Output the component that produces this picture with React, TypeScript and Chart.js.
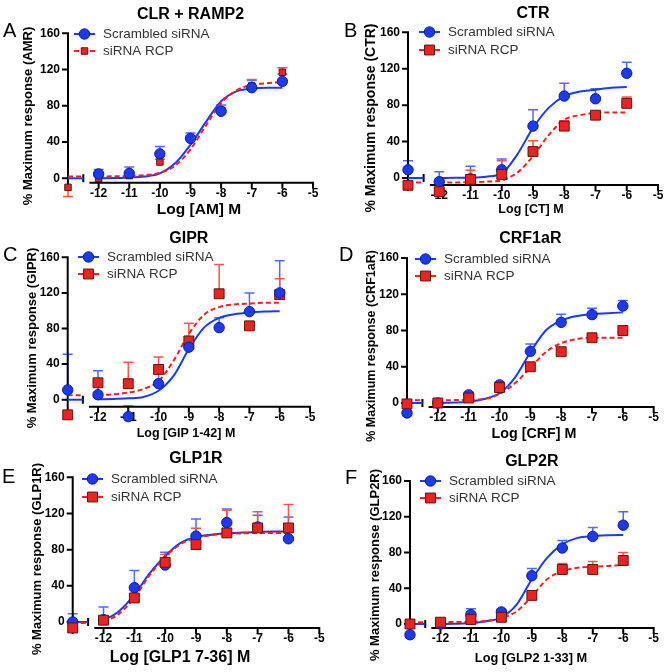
import React, { useEffect, useRef } from "react";
import { Chart, registerables } from "chart.js";

Chart.register(...registerables);

// ---------------- shared axis / category data ----------------
const DOSE_X = [-13, -12, -11, -10, -9, -8, -7, -6]; // first = basal (no agonist)
const FIT_X = [-12, -11.5, -11, -10.5, -10, -9.5, -9, -8.5, -8, -7.5, -7, -6.5, -6];
const BASAL_SEGMENT_X = [-13, -12.5];
const X_TICKS = [-12, -11, -10, -9, -8, -7, -6, -5];
const Y_TICKS = [0, 40, 80, 120, 160];
const SERIES_NAMES = ["Scrambled siRNA", "siRNA RCP"];
const PANEL_LETTERS = ["A", "B", "C", "D", "E", "F"];
const PANEL_TITLES = ["CLR + RAMP2", "CTR", "GIPR", "CRF1aR", "GLP1R", "GLP2R"];
const Y_TITLES = [
  "% Maximum response (AMR)",
  "% Maximum response (CTR)",
  "% Maximum response (GIPR)",
  "% Maximum response (CRF1aR)",
  "% Maximum response (GLP1R)",
  "% Maximum response (GLP2R)",
];
const X_TITLES = ["Log [AM] M", "Log [CT] M", "Log [GIP 1-42] M", "Log [CRF] M", "Log [GLP1 7-36] M", "Log [GLP2 1-33] M"];

// ---------------- panel A: CLR + RAMP2 ----------------
const A_SCR = [null, 4.8, 5.5, 27, 44, 74, 100, 107];
const A_SCR_ERR = [0, 5, 7, 8, 6, 7, 8, 8];
const A_RCP = [-10, 0, 3, 18, 43, 74, 102, 117];
const A_RCP_ERR = [-10, 2, 2, 3, 4, 4, 7, 5];
const A_SCR_FIT = [0, 0.3, 1, 2, 5.5, 16.5, 37, 62, 85, 96, 99, 100, 100];
const A_RCP_FIT = [2, 2.2, 2.5, 3.5, 6, 14, 32, 58, 83, 97, 103, 105, 106];
const A_BOTTOM = [0, 2];

// ---------------- panel B: CTR ----------------
const B_SCR = [9, -4, -1, 9, 57, 90, 87, 115];
const B_SCR_ERR = [10, 11, 14, 12, 18, 14, 11, 12];
const B_RCP = [-8, -15, -1.5, 4, 29, 57, 69, 82];
const B_RCP_ERR = [3, 3, 10, 15, 12, 6, 3, 7];
const B_SCR_FIT = [0, 0.2, 0.5, 1.5, 5, 26, 55, 77, 90, 95, 97, 99, 100];
const B_RCP_FIT = [-5, -5, -4.5, -4, -2.5, 6, 24, 47, 64, 69, 71.5, 72, 72];
const B_BOTTOM = [0, -5];

// ---------------- panel C: GIPR ----------------
const C_SCR = [11, 5.6, -19, 18, 59, 81, 99, 120];
const C_SCR_ERR = [40, 27, 12, 15, 11, 11, 21, 36];
const C_RCP = [-17, 19, 18, 34, 66, 119, 83, 118];
const C_RCP_ERR = [-3, 3, 24, 14, 20, 33, 3, 18];
const C_SCR_FIT = [0.5, 0.8, 1.5, 3, 10, 27, 57, 81, 92, 96, 98, 99, 99.5];
const C_RCP_FIT = [5, 6, 8, 12, 21, 44, 74, 95.5, 104, 107, 108, 109, 109];
const C_BOTTOM = [0, 5];

// ---------------- panel D: CRF1aR ----------------
const D_SCR = [-11, 0, 9, 20, 57, 89, 97.5, 107];
const D_SCR_ERR = [-3, 2, 3, 3, 8, 9, 7, 6];
const D_RCP = [-1, 0, 5.5, 17, 40, 56.6, 72, 80];
const D_RCP_ERR = [2, 2, 2, 3, 3, 3, 3, 3];
const D_SCR_FIT = [0, 0.5, 1.5, 4.4, 10.7, 28, 56, 80, 91, 96, 98, 99, 100];
const D_RCP_FIT = [3, 3.2, 3.5, 4.5, 10, 21.7, 39, 56, 66, 70.5, 72, 72, 72];
const D_BOTTOM = [0, 3];

// ---------------- panel E: GLP1R ----------------
const E_SCR = [0, 2.6, 38, 63, 95, 110, 105, 92];
const E_SCR_ERR = [9, 14, 19, 14, 19, 15, 13, 24];
const E_RCP = [-6.6, 2, 26.6, 66, 85.6, 98.5, 104, 104];
const E_RCP_ERR = [-3, 3, 9, 8.5, 18, 25, 18, 26];
const E_SCR_FIT = [1.5, 12, 30, 54, 73, 87.5, 94, 96.5, 98, 99, 99.5, 100, 100];
const E_RCP_FIT = [0, 9, 27, 52, 72, 86, 93, 96, 97.5, 98, 98.5, 98.5, 98.5];
const E_BOTTOM = [0, -1];

// ---------------- panel F: GLP2R ----------------
const F_SCR = [-12, 0, 10.5, 13.5, 54, 85, 98, 110.6];
const F_SCR_ERR = [-3, 2, 6.5, 3, 8, 8.5, 10, 15];
const F_RCP = [0, 2, 5, 7.5, 32, 61, 61, 71];
const F_RCP_ERR = [2, 2, 2, 2, 3, 6.6, 9, 9];
const F_SCR_FIT = [0, 0.3, 1, 3, 7.5, 21.7, 50, 74, 89, 96.4, 98.3, 99.4, 99.5];
const F_RCP_FIT = [2, 2.2, 2.5, 3.5, 7, 14, 31, 50, 59, 63, 64, 65, 66];
const F_BOTTOM = [0, 2];

const PANELS = [
  { scr: A_SCR, scrErr: A_SCR_ERR, rcp: A_RCP, rcpErr: A_RCP_ERR, scrFit: A_SCR_FIT, rcpFit: A_RCP_FIT, bottom: A_BOTTOM },
  { scr: B_SCR, scrErr: B_SCR_ERR, rcp: B_RCP, rcpErr: B_RCP_ERR, scrFit: B_SCR_FIT, rcpFit: B_RCP_FIT, bottom: B_BOTTOM },
  { scr: C_SCR, scrErr: C_SCR_ERR, rcp: C_RCP, rcpErr: C_RCP_ERR, scrFit: C_SCR_FIT, rcpFit: C_RCP_FIT, bottom: C_BOTTOM },
  { scr: D_SCR, scrErr: D_SCR_ERR, rcp: D_RCP, rcpErr: D_RCP_ERR, scrFit: D_SCR_FIT, rcpFit: D_RCP_FIT, bottom: D_BOTTOM },
  { scr: E_SCR, scrErr: E_SCR_ERR, rcp: E_RCP, rcpErr: E_RCP_ERR, scrFit: E_SCR_FIT, rcpFit: E_RCP_FIT, bottom: E_BOTTOM },
  { scr: F_SCR, scrErr: F_SCR_ERR, rcp: F_RCP, rcpErr: F_RCP_ERR, scrFit: F_SCR_FIT, rcpFit: F_RCP_FIT, bottom: F_BOTTOM },
];

// ---------------- layout (pixels inside each 332x224 panel) ----------------
const W = 332;
const H = 224;
const BELOW_AXIS = 24; // extra plot room under the x axis so low points are drawn
const LAYOUTS = [
  { left: 68, right: 313, top: 33.3, zeroY: 178.3, axisOff: 4.4, letterX: 3, letterY: 37, legX: 74, legY: [34, 51], rcpR: 4.6, scrOnTop: true, xtSize: 15.5, xtX: 199, ytSize: 13, ytX: -40, ytY: 116 },
  { left: 76, right: 326, top: 32.3, zeroY: 179, axisOff: 7, letterX: 12, letterY: 37, legX: 87, legY: [32, 50], rcpR: 7, scrOnTop: false, xtSize: 12.5, xtX: 199, ytSize: 14, ytX: -37, ytY: 118 },
  { left: 67.7, right: 310, top: 33.3, zeroY: 175.7, axisOff: 7, letterX: 3, letterY: 37, legX: 78, legY: [33, 50], rcpR: 7, scrOnTop: true, xtSize: 12.5, xtX: 186, ytSize: 13, ytX: -35, ytY: 114 },
  { left: 75, right: 321.7, top: 34, zeroY: 179, axisOff: 4, letterX: 7, letterY: 37, legX: 83, legY: [35, 52], rcpR: 7, scrOnTop: false, xtSize: 14.3, xtX: 202, ytSize: 12.5, ytX: -35, ytY: 122 },
  { left: 72.7, right: 319.3, top: 29.3, zeroY: 174, axisOff: 6, letterX: 2, letterY: 35, legX: 82, legY: [31, 49], rcpR: 7, scrOnTop: false, xtSize: 16, xtX: 180, ytSize: 13, ytX: -35, ytY: 111 },
  { left: 78, right: 321.7, top: 33, zeroY: 176, axisOff: 4, letterX: 13, letterY: 36, legX: 88, legY: [33, 50], rcpR: 7, scrOnTop: false, xtSize: 12.8, xtX: 199, ytSize: 13, ytX: -35, ytY: 117 },
];

const AXIS_BREAK_X = -12.5;
const AXIS_RESUME_X = -12.3;

const FONT = "'Liberation Sans', Arial, sans-serif";
const BLUE = "#1b3af5";
const BLUE_EDGE = "#0b1c90";
const BLUE_ERR = "#4d6bff";
const RED = "#ee231f";
const RED_EDGE = "#5c1512";
const RED_ERR = "#f25555";
const SCR_R = 5.2;

function drawMarker(ctx: CanvasRenderingContext2D, kind: "circle" | "rect", x: number, y: number, r: number) {
  ctx.beginPath();
  if (kind === "circle") {
    ctx.arc(x, y, r, 0, Math.PI * 2);
    ctx.fillStyle = BLUE;
    ctx.strokeStyle = BLUE_EDGE;
  } else {
    const s = Math.SQRT1_2 * r;
    ctx.rect(x - s, y - s, 2 * s, 2 * s);
    ctx.fillStyle = RED;
    ctx.strokeStyle = RED_EDGE;
  }
  ctx.fill();
  ctx.lineWidth = 1;
  ctx.stroke();
}

function makeDecor(idx: number) {
  const p = PANELS[idx];
  const L = LAYOUTS[idx];
  return {
    id: "decor" + idx,
    beforeDatasetsDraw(chart: any) {
      const { ctx, chartArea: ca } = chart;
      const xs = chart.scales.x;
      const ys = chart.scales.y;
      const axisY = ys.getPixelForValue(0) + L.axisOff;
      ctx.save();
      // error bars
      const drawErr = (vals: (number | null)[], errs: number[], color: string) => {
        ctx.strokeStyle = color;
        ctx.lineWidth = 1.5;
        vals.forEach((v, i) => {
          const e = errs[i];
          if (!e || v === null) return;
          const px = xs.getPixelForValue(DOSE_X[i]);
          const y1 = ys.getPixelForValue(v);
          const y2 = ys.getPixelForValue(v + e);
          ctx.beginPath();
          ctx.moveTo(px, y1);
          ctx.lineTo(px, y2);
          ctx.moveTo(px - 5, y2);
          ctx.lineTo(px + 5, y2);
          ctx.stroke();
        });
      };
      drawErr(p.scr, p.scrErr, BLUE_ERR);
      drawErr(p.rcp, p.rcpErr, RED_ERR);

      // axes (GraphPad style, broken x axis)
      ctx.strokeStyle = "#000";
      ctx.lineWidth = 2;
      ctx.lineCap = "butt";
      const topY = ys.getPixelForValue(160);
      ctx.beginPath();
      ctx.moveTo(ca.left, topY - 1);
      ctx.lineTo(ca.left, axisY);
      Y_TICKS.forEach((t) => {
        const py = ys.getPixelForValue(t);
        ctx.moveTo(ca.left - 6, py);
        ctx.lineTo(ca.left, py);
      });
      ctx.moveTo(xs.getPixelForValue(AXIS_RESUME_X), axisY);
      ctx.lineTo(xs.getPixelForValue(-5) + 1, axisY);
      [DOSE_X[0], ...X_TICKS].forEach((t) => {
        const px = xs.getPixelForValue(t);
        ctx.moveTo(px, axisY - 1);
        ctx.lineTo(px, axisY + 6);
      });
      const bx = xs.getPixelForValue(AXIS_BREAK_X);
      const by = ys.getPixelForValue(0);
      ctx.moveTo(bx, by - 4);
      ctx.lineTo(bx, by + 4);
      ctx.stroke();

      // x tick labels (values from the library's x scale), placed under the offset axis line
      ctx.fillStyle = "#000";
      ctx.font = `bold 12px ${FONT}`;
      ctx.textAlign = "center";
      ctx.textBaseline = "middle";
      xs.ticks.forEach((t: any) => {
        ctx.fillText(String(t.label ?? t.value), xs.getPixelForValue(t.value), axisY + 11);
      });
      ctx.restore();
    },
    afterDraw(chart: any) {
      const { ctx, chartArea: ca } = chart;
      ctx.save();
      const cx = (ca.left + ca.right) / 2;
      // panel title
      ctx.fillStyle = "#000";
      ctx.textAlign = "center";
      ctx.textBaseline = "middle";
      ctx.font = `bold 16px ${FONT}`;
      ctx.fillText(PANEL_TITLES[idx], cx, L.top - 19);
      // x title
      ctx.font = `bold ${L.xtSize}px ${FONT}`;
      ctx.fillText(X_TITLES[idx], L.xtX, 210);
      // y title
      ctx.save();
      ctx.translate(ca.left + L.ytX, L.ytY);
      ctx.rotate(-Math.PI / 2);
      ctx.font = `bold ${L.ytSize}px ${FONT}`;
      ctx.fillText(Y_TITLES[idx], 0, 0);
      ctx.restore();
      // panel letter
      ctx.textAlign = "left";
      ctx.textBaseline = "alphabetic";
      ctx.font = `20px ${FONT}`;
      ctx.fillText(PANEL_LETTERS[idx], L.letterX, L.letterY);
      // legend
      ctx.font = `13.5px ${FONT}`;
      ctx.textBaseline = "middle";
      SERIES_NAMES.forEach((name, i) => {
        const y = L.legY[i];
        ctx.beginPath();
        ctx.strokeStyle = i === 0 ? BLUE : RED;
        ctx.lineWidth = 2;
        ctx.setLineDash(i === 0 ? [] : [5, 3]);
        ctx.moveTo(L.legX, y);
        ctx.lineTo(L.legX + 21, y);
        ctx.stroke();
        ctx.setLineDash([]);
        drawMarker(ctx, i === 0 ? "circle" : "rect", L.legX + 10.5, y, i === 0 ? SCR_R : L.rcpR);
        ctx.fillStyle = "#333";
        ctx.fillText(name, L.legX + 29, y + 0.5);
      });
      ctx.restore();
    },
  };
}

function makeConfig(idx: number): any {
  const p = PANELS[idx];
  const L = LAYOUTS[idx];
  const pxPerUnit = (L.zeroY - L.top) / 160;
  const yMin = -(L.axisOff + BELOW_AXIS) / pxPerUnit;
  const plotBottom = L.zeroY + L.axisOff + BELOW_AXIS;
  const pts = (xs: number[], ys: (number | null)[]) => xs.map((x, i) => ({ x, y: ys[i] }));
  const tickFont = { family: FONT, size: 12, weight: "bold" as const };
  return {
    type: "scatter",
    data: {
      datasets: [
        {
          label: SERIES_NAMES[0] + " fit",
          data: pts(FIT_X, p.scrFit),
          showLine: true,
          borderColor: BLUE,
          borderWidth: 2,
          pointRadius: 0,
          cubicInterpolationMode: "monotone",
          clip: false,
          order: 10,
        },
        {
          label: SERIES_NAMES[1] + " fit",
          data: pts(FIT_X, p.rcpFit),
          showLine: true,
          borderColor: RED,
          borderWidth: 2,
          borderDash: [5, 3],
          pointRadius: 0,
          cubicInterpolationMode: "monotone",
          clip: false,
          order: 9,
        },
        {
          label: SERIES_NAMES[0] + " basal",
          data: pts(BASAL_SEGMENT_X, BASAL_SEGMENT_X.map(() => p.bottom[0])),
          showLine: true,
          borderColor: BLUE,
          borderWidth: 2,
          pointRadius: 0,
          clip: false,
          order: 10,
        },
        {
          label: SERIES_NAMES[1] + " basal",
          data: pts(BASAL_SEGMENT_X, BASAL_SEGMENT_X.map(() => p.bottom[1])),
          showLine: true,
          borderColor: RED,
          borderWidth: 2,
          borderDash: [5, 3],
          pointRadius: 0,
          clip: false,
          order: 9,
        },
        {
          label: SERIES_NAMES[0],
          data: pts(DOSE_X, p.scr),
          showLine: false,
          pointStyle: "circle",
          pointRadius: SCR_R,
          backgroundColor: BLUE,
          borderColor: BLUE_EDGE,
          borderWidth: 1,
          clip: false,
          order: L.scrOnTop ? 1 : 2,
        },
        {
          label: SERIES_NAMES[1],
          data: pts(DOSE_X, p.rcp),
          showLine: false,
          pointStyle: "rect",
          pointRadius: L.rcpR,
          backgroundColor: RED,
          borderColor: RED_EDGE,
          borderWidth: 1,
          clip: false,
          order: L.scrOnTop ? 2 : 1,
        },
      ],
    },
    options: {
      animation: false,
      responsive: false,
      events: [],
      layout: { autoPadding: false, padding: { left: 0, top: L.top, right: W - L.right, bottom: 0 } },
      plugins: { legend: { display: false }, tooltip: { enabled: false }, title: { display: false } },
      scales: {
        x: {
          type: "linear",
          min: DOSE_X[0],
          max: X_TICKS[X_TICKS.length - 1],
          grid: { display: false, drawTicks: false },
          border: { display: false },
          afterBuildTicks: (s: any) => {
            s.ticks = X_TICKS.map((v) => ({ value: v }));
          },
          afterFit: (s: any) => {
            s.height = H - plotBottom;
          },
          ticks: { display: false, font: tickFont, autoSkip: false },
        },
        y: {
          type: "linear",
          min: yMin,
          max: 160,
          grid: { display: false, drawTicks: false },
          border: { display: false },
          afterBuildTicks: (s: any) => {
            s.ticks = Y_TICKS.map((v) => ({ value: v }));
          },
          afterFit: (s: any) => {
            s.width = L.left;
          },
          ticks: { font: tickFont, color: "#000", padding: 8 },
        },
      },
    },
    plugins: [makeDecor(idx)],
  };
}

function Panel({ idx }: { idx: number }) {
  const ref = useRef<HTMLCanvasElement | null>(null);
  useEffect(() => {
    if (!ref.current) return;
    const chart = new Chart(ref.current, makeConfig(idx));
    return () => chart.destroy();
  }, [idx]);
  return <canvas ref={ref} width={W} height={H} style={{ display: "block", width: W, height: H }} />;
}

export default function App() {
  return (
    <div
      style={{
        position: "absolute",
        left: 0,
        top: 0,
        width: W * 2,
        height: H * 3,
        background: "#fff",
        display: "grid",
        gridTemplateColumns: `${W}px ${W}px`,
        gridTemplateRows: `${H}px ${H}px ${H}px`,
      }}
    >
      {PANELS.map((_, i) => (
        <Panel key={i} idx={i} />
      ))}
    </div>
  );
}
